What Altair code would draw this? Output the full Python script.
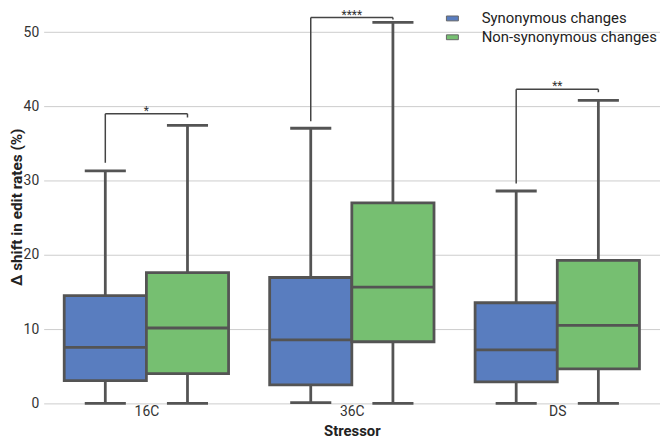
import altair as alt
import pandas as pd

stressors = ["16C", "36C", "DS"]
groups = ["Synonymous changes", "Non-synonymous changes"]
colors = ["#597DBF", "#76BF71"]

syn_low = [0.0, 0.1, 0.0]
syn_q1 = [3.07, 2.5, 2.9]
syn_med = [7.55, 8.55, 7.2]
syn_q3 = [14.5, 16.95, 13.55]
syn_high = [31.3, 37.05, 28.6]

non_low = [0.0, 0.0, 0.0]
non_q1 = [4.0, 8.3, 4.65]
non_med = [10.15, 15.65, 10.5]
non_q3 = [17.6, 27.0, 19.25]
non_high = [37.45, 51.3, 40.8]

stars = ["*", "****", "**"]
bracket_top = [39.0, 51.95, 42.3]
bracket_left_end = [32.4, 38.0, 29.6]
bracket_right_end = [38.5, 51.7, 41.9]

EDGE = "#545454"
FONT = "Roboto"

# build tables
rows = []
for i, s in enumerate(stressors):
    for g, (lo, q1, md, q3, hi), sign in [
        (groups[0], (syn_low[i], syn_q1[i], syn_med[i], syn_q3[i], syn_high[i]), -1),
        (groups[1], (non_low[i], non_q1[i], non_med[i], non_q3[i], non_high[i]), 1),
    ]:
        xc = i + sign * 0.2
        rows.append(dict(stressor=s, group=g, xc=xc, x0=xc - 0.2, x1=xc + 0.2,
                         c0=xc - 0.1, c1=xc + 0.1,
                         low=lo, q1=q1, med=md, q3=q3, high=hi))
box_df = pd.DataFrame(rows)

seg = []
txt = []
for i, s in enumerate(stressors):
    xl, xr = i - 0.2, i + 0.2
    seg.append(dict(x=xl, x2=xr, y=bracket_top[i], y2=bracket_top[i]))
    seg.append(dict(x=xl, x2=xl, y=bracket_left_end[i], y2=bracket_top[i]))
    seg.append(dict(x=xr, x2=xr, y=bracket_right_end[i], y2=bracket_top[i]))
    txt.append(dict(x=float(i), y=bracket_top[i], t=stars[i]))
seg_df = pd.DataFrame(seg)
txt_df = pd.DataFrame(txt)

label_expr = "[" + ",".join("'%s'" % s for s in stressors) + "][datum.value]"

xscale = alt.Scale(domain=[-0.5, 2.5], nice=False, zero=False)
yscale = alt.Scale(domain=[0, 52.97], nice=False, zero=False)
xaxis = alt.Axis(title="Stressor", values=[0, 1, 2], labelExpr=label_expr, grid=False,
                 ticks=False, domain=False, labelFont=FONT, labelFontSize=14,
                 labelColor="#333333", labelPadding=1, titleFont=FONT,
                 titleFontSize=15, titleFontWeight="bold", titleColor="#222222",
                 titleY=32, titleBaseline="alphabetic")
yaxis = alt.Axis(title="Δ shift in edit rates (%)", values=[0, 10, 20, 30, 40, 50],
                 grid=True, gridColor="#cccccc", gridWidth=1, ticks=False, domain=False,
                 labelFont=FONT, labelFontSize=14, labelColor="#333333", labelPadding=5,
                 titleFont=FONT, titleFontSize=15.5, titleFontWeight="bold",
                 titleColor="#222222", titleX=-27, titleBaseline="middle")


def X(f):
    return alt.X(f, type="quantitative", scale=xscale, axis=xaxis)


def Y(f):
    return alt.Y(f, type="quantitative", scale=yscale, axis=yaxis)


base = alt.Chart(box_df)

whisk = base.mark_rule(color=EDGE, strokeWidth=2.8).encode(
    x=X("xc"), y=Y("low"), y2="high")
caps_hi = base.mark_rule(color=EDGE, strokeWidth=2.8).encode(
    x=X("c0"), x2="c1", y=Y("high"))
caps_lo = base.mark_rule(color=EDGE, strokeWidth=2.8).encode(
    x=X("c0"), x2="c1", y=Y("low"))
boxes = base.mark_bar(stroke=EDGE, strokeWidth=2.8).encode(
    x=X("x0"), x2="x1", y=Y("q1"), y2="q3",
    color=alt.Color("group:N", scale=alt.Scale(domain=groups, range=colors),
                    legend=alt.Legend(title=None, orient="none", legendX=405, legendY=1,
                                      symbolType="M-1.15,-0.47L1.15,-0.47L1.15,0.47L-1.15,0.47Z",
                                      symbolSize=110, symbolStrokeColor="#666666",
                                      symbolStrokeWidth=1, labelFont=FONT, labelFontSize=15,
                                      labelColor="#222222", labelOffset=22, rowPadding=3,
                                      labelLimit=400, padding=0)))
meds = base.mark_rule(color=EDGE, strokeWidth=2.8).encode(
    x=X("x0"), x2="x1", y=Y("med"))

brackets = alt.Chart(seg_df).mark_rule(color="#444444", strokeWidth=1.5).encode(
    x=X("x"), x2="x2", y=Y("y"), y2="y2")
labels = alt.Chart(txt_df).mark_text(font=FONT, fontSize=12, color="#333333",
                                     baseline="alphabetic", dy=1).encode(
    x=X("x"), y=Y("y"), text="t:N")

chart = alt.layer(whisk, caps_hi, caps_lo, boxes, meds, brackets, labels).properties(
    width=622, height=397,
    autosize=alt.AutoSizeParams(type="none"),
    padding={"left": 36, "top": 0, "right": 0, "bottom": 44},
).configure_view(stroke=None)

chart.save("out.html", embed_options={"renderer": "svg", "actions": False})
